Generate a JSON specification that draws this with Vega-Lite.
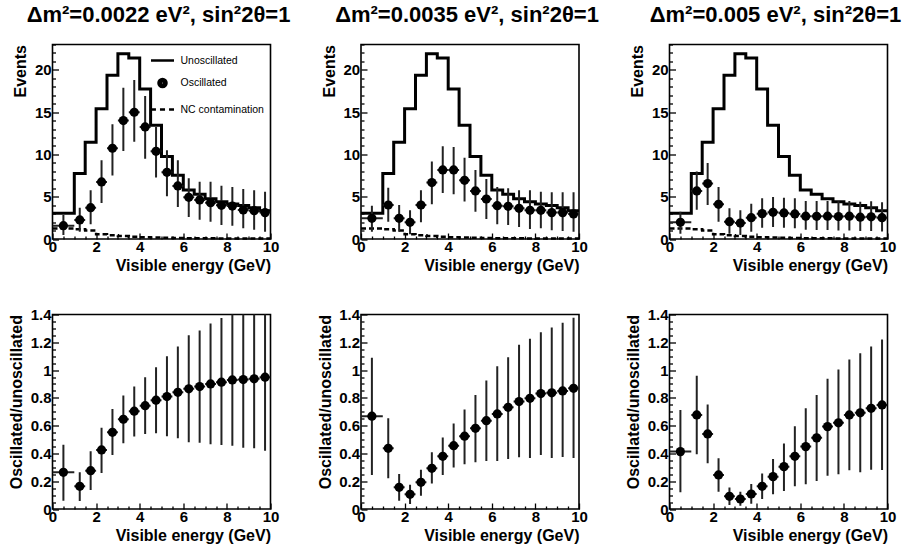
{
"$schema": "https://vega.github.io/schema/vega-lite/v6.json",
"autosize": {"type": "pad"},
"padding": {"left": 7.5, "top": 2.5, "right": 4, "bottom": 4},
"background": "white",
"bounds": "flush",
"columns": 3,
"spacing": {"row": 75, "column": 90.5},
"datasets": {
"hist": [
{"x":0,"v":3.05,"nc":1.25},{"x":1,"v":7.75,"nc":1.15},{"x":1.5,"v":11.45,"nc":1.0},{"x":2,"v":15.4,"nc":0.55},
{"x":2.5,"v":19.35,"nc":0.45},{"x":3,"v":21.9,"nc":0.35},{"x":3.5,"v":21.4,"nc":0.28},{"x":4,"v":17.75,"nc":0.22},
{"x":4.5,"v":13.45,"nc":0.18},{"x":5,"v":9.75,"nc":0.15},{"x":5.5,"v":7.55,"nc":0.12},{"x":6,"v":5.8,"nc":0.1},
{"x":6.5,"v":5.3,"nc":0.09},{"x":7,"v":4.75,"nc":0.08},{"x":7.5,"v":4.4,"nc":0.07},{"x":8,"v":4.15,"nc":0.06},
{"x":8.5,"v":3.95,"nc":0.06},{"x":9,"v":3.7,"nc":0.05},{"x":9.5,"v":3.35,"nc":0.05},{"x":10,"v":3.35,"nc":0.05}
],
"p1": [
{"x":0.5,"y":1.58,"lo":0.47,"hi":2.84,"xlo":0,"xhi":1},
{"x":1.25,"y":2.25,"lo":0.87,"hi":3.7,"xlo":1,"xhi":1.5},
{"x":1.75,"y":3.7,"lo":1.74,"hi":5.76,"xlo":1.5,"xhi":2},
{"x":2.25,"y":6.75,"lo":4.26,"hi":9.3,"xlo":2,"xhi":2.5},
{"x":2.75,"y":10.73,"lo":7.5,"hi":13.57,"xlo":2.5,"xhi":3},
{"x":3.25,"y":14.0,"lo":10.4,"hi":17.9,"xlo":3,"xhi":3.5},
{"x":3.75,"y":14.99,"lo":11.5,"hi":18.8,"xlo":3.5,"xhi":4},
{"x":4.25,"y":13.25,"lo":9.5,"hi":16.9,"xlo":4,"xhi":4.5},
{"x":4.75,"y":10.37,"lo":7.26,"hi":13.25,"xlo":4.5,"xhi":5},
{"x":5.25,"y":7.89,"lo":5.05,"hi":10.5,"xlo":5,"xhi":5.5},
{"x":5.75,"y":6.27,"lo":3.79,"hi":9.3,"xlo":5.5,"xhi":6},
{"x":6.25,"y":4.93,"lo":2.6,"hi":7.18,"xlo":6,"xhi":6.5},
{"x":6.75,"y":4.62,"lo":2.29,"hi":6.78,"xlo":6.5,"xhi":7},
{"x":7.25,"y":4.3,"lo":2.05,"hi":6.78,"xlo":7,"xhi":7.5},
{"x":7.75,"y":3.98,"lo":1.66,"hi":6.31,"xlo":7.5,"xhi":8},
{"x":8.25,"y":3.9,"lo":1.58,"hi":6.15,"xlo":8,"xhi":8.5},
{"x":8.75,"y":3.43,"lo":1.26,"hi":5.92,"xlo":8.5,"xhi":9},
{"x":9.25,"y":3.35,"lo":1.1,"hi":5.76,"xlo":9,"xhi":9.5},
{"x":9.75,"y":3.12,"lo":0.87,"hi":5.6,"xlo":9.5,"xhi":10}
],
"p2": [
{"x":0.5,"y":2.45,"lo":0.87,"hi":3.94,"xlo":0,"xhi":1},
{"x":1.25,"y":4.02,"lo":2.05,"hi":6.07,"xlo":1,"xhi":1.5},
{"x":1.75,"y":2.45,"lo":0.87,"hi":4.02,"xlo":1.5,"xhi":2},
{"x":2.25,"y":1.97,"lo":0.55,"hi":3.4,"xlo":2,"xhi":2.5},
{"x":2.75,"y":4.02,"lo":1.97,"hi":5.76,"xlo":2.5,"xhi":3},
{"x":3.25,"y":6.67,"lo":4.1,"hi":9.15,"xlo":3,"xhi":3.5},
{"x":3.75,"y":8.17,"lo":5.44,"hi":10.97,"xlo":3.5,"xhi":4},
{"x":4.25,"y":8.17,"lo":5.28,"hi":10.89,"xlo":4,"xhi":4.5},
{"x":4.75,"y":6.94,"lo":4.42,"hi":9.6,"xlo":4.5,"xhi":5},
{"x":5.25,"y":5.68,"lo":3.23,"hi":8.17,"xlo":5,"xhi":5.5},
{"x":5.75,"y":4.73,"lo":2.37,"hi":7.1,"xlo":5.5,"xhi":6},
{"x":6.25,"y":3.94,"lo":1.74,"hi":6.15,"xlo":6,"xhi":6.5},
{"x":6.75,"y":3.87,"lo":1.66,"hi":5.99,"xlo":6.5,"xhi":7},
{"x":7.25,"y":3.63,"lo":1.42,"hi":5.76,"xlo":7,"xhi":7.5},
{"x":7.75,"y":3.39,"lo":1.18,"hi":5.76,"xlo":7.5,"xhi":8},
{"x":8.25,"y":3.39,"lo":1.26,"hi":5.6,"xlo":8,"xhi":8.5},
{"x":8.75,"y":3.12,"lo":1.03,"hi":5.52,"xlo":8.5,"xhi":9},
{"x":9.25,"y":3.12,"lo":0.95,"hi":5.52,"xlo":9,"xhi":9.5},
{"x":9.75,"y":2.96,"lo":0.87,"hi":5.52,"xlo":9.5,"xhi":10}
],
"p3": [
{"x":0.5,"y":1.97,"lo":0.63,"hi":3.23,"xlo":0,"xhi":1},
{"x":1.25,"y":5.68,"lo":3.47,"hi":7.97,"xlo":1,"xhi":1.5},
{"x":1.75,"y":6.55,"lo":4.02,"hi":9.0,"xlo":1.5,"xhi":2},
{"x":2.25,"y":4.1,"lo":2.05,"hi":6.15,"xlo":2,"xhi":2.5},
{"x":2.75,"y":2.05,"lo":0.63,"hi":3.63,"xlo":2.5,"xhi":3},
{"x":3.25,"y":1.89,"lo":0.47,"hi":3.39,"xlo":3,"xhi":3.5},
{"x":3.75,"y":2.52,"lo":0.87,"hi":4.18,"xlo":3.5,"xhi":4},
{"x":4.25,"y":3.0,"lo":1.34,"hi":4.81,"xlo":4,"xhi":4.5},
{"x":4.75,"y":3.16,"lo":1.42,"hi":4.97,"xlo":4.5,"xhi":5},
{"x":5.25,"y":3.08,"lo":1.34,"hi":4.89,"xlo":5,"xhi":5.5},
{"x":5.75,"y":2.96,"lo":1.26,"hi":4.81,"xlo":5.5,"xhi":6},
{"x":6.25,"y":2.7,"lo":1.1,"hi":4.5,"xlo":6,"xhi":6.5},
{"x":6.75,"y":2.68,"lo":1.05,"hi":4.5,"xlo":6.5,"xhi":7},
{"x":7.25,"y":2.7,"lo":1.05,"hi":4.5,"xlo":7,"xhi":7.5},
{"x":7.75,"y":2.65,"lo":1.0,"hi":4.45,"xlo":7.5,"xhi":8},
{"x":8.25,"y":2.7,"lo":1.0,"hi":4.5,"xlo":8,"xhi":8.5},
{"x":8.75,"y":2.58,"lo":0.95,"hi":4.4,"xlo":8.5,"xhi":9},
{"x":9.25,"y":2.62,"lo":0.95,"hi":4.45,"xlo":9,"xhi":9.5},
{"x":9.75,"y":2.52,"lo":0.9,"hi":4.35,"xlo":9.5,"xhi":10}
],
"r1": [
{"x":0.5,"y":0.264,"lo":0.06,"hi":0.463,"xlo":0,"xhi":1},
{"x":1.25,"y":0.163,"lo":0.058,"hi":0.264,"xlo":1,"xhi":1.5},
{"x":1.75,"y":0.276,"lo":0.137,"hi":0.415,"xlo":1.5,"xhi":2},
{"x":2.25,"y":0.425,"lo":0.259,"hi":0.584,"xlo":2,"xhi":2.5},
{"x":2.75,"y":0.552,"lo":0.389,"hi":0.72,"xlo":2.5,"xhi":3},
{"x":3.25,"y":0.646,"lo":0.473,"hi":0.817,"xlo":3,"xhi":3.5},
{"x":3.75,"y":0.704,"lo":0.521,"hi":0.881,"xlo":3.5,"xhi":4},
{"x":4.25,"y":0.744,"lo":0.54,"hi":0.949,"xlo":4,"xhi":4.5},
{"x":4.75,"y":0.783,"lo":0.545,"hi":1.02,"xlo":4.5,"xhi":5},
{"x":5.25,"y":0.809,"lo":0.524,"hi":1.1,"xlo":5,"xhi":5.5},
{"x":5.75,"y":0.84,"lo":0.509,"hi":1.17,"xlo":5.5,"xhi":6},
{"x":6.25,"y":0.865,"lo":0.48,"hi":1.25,"xlo":6,"xhi":6.5},
{"x":6.75,"y":0.881,"lo":0.476,"hi":1.285,"xlo":6.5,"xhi":7},
{"x":7.25,"y":0.9,"lo":0.466,"hi":1.335,"xlo":7,"xhi":7.5},
{"x":7.75,"y":0.913,"lo":0.461,"hi":1.374,"xlo":7.5,"xhi":8},
{"x":8.25,"y":0.929,"lo":0.456,"hi":1.43,"xlo":8,"xhi":8.5},
{"x":8.75,"y":0.932,"lo":0.44,"hi":1.47,"xlo":8.5,"xhi":9},
{"x":9.25,"y":0.937,"lo":0.437,"hi":1.5,"xlo":9,"xhi":9.5},
{"x":9.75,"y":0.949,"lo":0.42,"hi":1.53,"xlo":9.5,"xhi":10}
],
"r2": [
{"x":0.5,"y":0.668,"lo":0.245,"hi":1.088,"xlo":0,"xhi":1},
{"x":1.25,"y":0.437,"lo":0.221,"hi":0.653,"xlo":1,"xhi":1.5},
{"x":1.75,"y":0.156,"lo":0.06,"hi":0.252,"xlo":1.5,"xhi":2},
{"x":2.25,"y":0.106,"lo":0.036,"hi":0.175,"xlo":2,"xhi":2.5},
{"x":2.75,"y":0.192,"lo":0.096,"hi":0.283,"xlo":2.5,"xhi":3},
{"x":3.25,"y":0.293,"lo":0.183,"hi":0.408,"xlo":3,"xhi":3.5},
{"x":3.75,"y":0.379,"lo":0.245,"hi":0.514,"xlo":3.5,"xhi":4},
{"x":4.25,"y":0.456,"lo":0.298,"hi":0.615,"xlo":4,"xhi":4.5},
{"x":4.75,"y":0.524,"lo":0.322,"hi":0.716,"xlo":4.5,"xhi":5},
{"x":5.25,"y":0.581,"lo":0.336,"hi":0.821,"xlo":5,"xhi":5.5},
{"x":5.75,"y":0.636,"lo":0.346,"hi":0.925,"xlo":5.5,"xhi":6},
{"x":6.25,"y":0.684,"lo":0.346,"hi":1.028,"xlo":6,"xhi":6.5},
{"x":6.75,"y":0.732,"lo":0.36,"hi":1.093,"xlo":6.5,"xhi":7},
{"x":7.25,"y":0.773,"lo":0.372,"hi":1.182,"xlo":7,"xhi":7.5},
{"x":7.75,"y":0.797,"lo":0.367,"hi":1.225,"xlo":7.5,"xhi":8},
{"x":8.25,"y":0.831,"lo":0.389,"hi":1.273,"xlo":8,"xhi":8.5},
{"x":8.75,"y":0.836,"lo":0.367,"hi":1.306,"xlo":8.5,"xhi":9},
{"x":9.25,"y":0.85,"lo":0.375,"hi":1.34,"xlo":9,"xhi":9.5},
{"x":9.75,"y":0.869,"lo":0.367,"hi":1.376,"xlo":9.5,"xhi":10}
],
"r3": [
{"x":0.5,"y":0.413,"lo":0.12,"hi":0.713,"xlo":0,"xhi":1},
{"x":1.25,"y":0.677,"lo":0.394,"hi":0.96,"xlo":1,"xhi":1.5},
{"x":1.75,"y":0.54,"lo":0.329,"hi":0.752,"xlo":1.5,"xhi":2},
{"x":2.25,"y":0.245,"lo":0.125,"hi":0.365,"xlo":2,"xhi":2.5},
{"x":2.75,"y":0.091,"lo":0.029,"hi":0.154,"xlo":2.5,"xhi":3},
{"x":3.25,"y":0.072,"lo":0.024,"hi":0.125,"xlo":3,"xhi":3.5},
{"x":3.75,"y":0.108,"lo":0.038,"hi":0.18,"xlo":3.5,"xhi":4},
{"x":4.25,"y":0.163,"lo":0.072,"hi":0.255,"xlo":4,"xhi":4.5},
{"x":4.75,"y":0.233,"lo":0.106,"hi":0.36,"xlo":4.5,"xhi":5},
{"x":5.25,"y":0.305,"lo":0.13,"hi":0.471,"xlo":5,"xhi":5.5},
{"x":5.75,"y":0.379,"lo":0.163,"hi":0.596,"xlo":5.5,"xhi":6},
{"x":6.25,"y":0.449,"lo":0.178,"hi":0.725,"xlo":6,"xhi":6.5},
{"x":6.75,"y":0.512,"lo":0.202,"hi":0.821,"xlo":6.5,"xhi":7},
{"x":7.25,"y":0.593,"lo":0.24,"hi":0.937,"xlo":7,"xhi":7.5},
{"x":7.75,"y":0.62,"lo":0.25,"hi":1.004,"xlo":7.5,"xhi":8},
{"x":8.25,"y":0.677,"lo":0.279,"hi":1.076,"xlo":8,"xhi":8.5},
{"x":8.75,"y":0.692,"lo":0.264,"hi":1.121,"xlo":8.5,"xhi":9},
{"x":9.25,"y":0.725,"lo":0.283,"hi":1.17,"xlo":9,"xhi":9.5},
{"x":9.75,"y":0.749,"lo":0.281,"hi":1.22,"xlo":9.5,"xhi":10}
],
"leg": [{"s":"Unoscillated"},{"s":"Oscillated"},{"s":"NC contamination"}]
},
"config": {
"view": {"stroke": "black", "strokeWidth": 1.6},
"axis": {"domain": false, "grid": false, "tickColor": "black", "tickWidth": 1.3, "labelFont": "Liberation Sans", "labelFontWeight": "bold", "labelFontSize": 15, "labelColor": "black", "titleFont": "Liberation Sans", "titleFontWeight": "bold", "titleFontSize": 16, "titleColor": "black", "labelOverlap": false, "labelFlush": false, "labelBound": false},
"axisY": {"titleAnchor": "end", "titlePadding": 5.5},
"title": {"font": "Liberation Sans", "fontSize": 22, "fontWeight": "bold", "color": "black", "anchor": "middle", "frame": "group", "offset": 16.7, "baseline": "alphabetic", "dx": -3}
},
"concat": [
{"width": 218, "height": 194.5, "title": "Δm²=0.0022 eV², sin²2θ=1",
 "resolve": {"axis": {"x": "independent", "y": "independent"}},
 "layer": [
  {"data": {"name": "hist"}, "mark": {"type": "line", "interpolate": "step-after", "color": "black", "strokeWidth": 3},
   "encoding": {
    "x": {"field": "x", "type": "quantitative", "scale": {"domain": [0, 10], "nice": false},
     "axis": {"orient": "bottom", "values": [0,2,4,6,8,10], "labelExpr": "format(datum.value, '~g')", "labelOverlap": false, "tickSize": -6, "labelPadding": 6.5, "title": "Visible energy (GeV)", "titleX": 218, "titleY": 31.4, "titleAlign": "right", "titleBaseline": "alphabetic"}},
    "y": {"field": "v", "type": "quantitative", "scale": {"domain": [0, 23], "nice": false},
     "axis": {"orient": "left", "values": [0,5,10,15,20], "labelExpr": "format(datum.value, '~g')", "labelOverlap": false, "tickSize": -6, "labelPadding": 7.4, "title": "Events"}}}},
  {"data": {"name": "hist"}, "mark": {"type": "line", "interpolate": "step-after", "color": "black", "strokeWidth": 2.5, "strokeDash": [5, 3]},
   "encoding": {
    "x": {"field": "x", "type": "quantitative", "scale": {"domain": [0, 10], "nice": false}, "axis": {"orient": "bottom", "values": [0.5,1,1.5,2.5,3,3.5,4.5,5,5.5,6.5,7,7.5,8.5,9,9.5], "labels": false, "title": null, "tickSize": -3}},
    "y": {"field": "nc", "type": "quantitative", "scale": {"domain": [0, 23], "nice": false}, "axis": {"orient": "left", "values": [1,2,3,4,6,7,8,9,11,12,13,14,16,17,18,19,21,22,23], "labels": false, "title": null, "tickSize": -3}}}},
  {"data": {"name": "p1"}, "mark": {"type": "rule", "color": "#222", "strokeWidth": 2, "clip": true},
   "encoding": {"x": {"field": "x", "type": "quantitative", "scale": {"domain": [0, 10], "nice": false}, "axis": null}, "y": {"field": "lo", "type": "quantitative", "scale": {"domain": [0, 23], "nice": false}, "axis": null}, "y2": {"field": "hi"}}},
  {"data": {"name": "p1"}, "mark": {"type": "rule", "color": "#222", "strokeWidth": 2, "clip": true},
   "encoding": {"x": {"field": "xlo", "type": "quantitative", "scale": {"domain": [0, 10], "nice": false}, "axis": null}, "x2": {"field": "xhi"}, "y": {"field": "y", "type": "quantitative", "scale": {"domain": [0, 23], "nice": false}, "axis": null}}},
  {"data": {"name": "p1"}, "mark": {"type": "point", "filled": true, "color": "black", "size": 85, "opacity": 1},
   "encoding": {"x": {"field": "x", "type": "quantitative", "scale": {"domain": [0, 10], "nice": false}, "axis": null}, "y": {"field": "y", "type": "quantitative", "scale": {"domain": [0, 23], "nice": false}, "axis": null}}},
  {"data": {"name": "leg"}, "mark": {"type": "point", "filled": false, "color": "black", "strokeWidth": 2.5, "opacity": 0},
   "encoding": {"shape": {"field": "s", "type": "nominal",
     "scale": {"domain": ["Unoscillated", "Oscillated", "NC contamination"], "range": ["M-1,0H1", "M-0.35,0A0.35,0.35,0,1,1,0.35,0A0.35,0.35,0,1,1,-0.35,0M-0.25,0A0.25,0.25,0,1,1,0.25,0A0.25,0.25,0,1,1,-0.25,0M-0.15,0A0.15,0.15,0,1,1,0.15,0A0.15,0.15,0,1,1,-0.15,0M-0.05,0A0.05,0.05,0,1,1,0.05,0A0.05,0.05,0,1,1,-0.05,0", "M-1,0H-0.57M-0.22,0H0.22M0.57,0H1"]},
     "legend": {"title": null, "orient": "none", "legendX": 97, "legendY": 3, "symbolSize": 529, "symbolStrokeWidth": 2.5, "symbolStrokeColor": "black", "symbolFillColor": "transparent", "symbolOpacity": 1, "labelFont": "Liberation Sans", "labelFontSize": 10.5, "labelColor": "black", "labelOffset": 5, "rowPadding": 3.5, "padding": 0,
       "encode": {"symbols": {"update": {"opacity": {"value": 1}, "stroke": {"value": "black"}, "strokeWidth": {"value": 2.5}}}}}}}}
 ]},
{"width": 218, "height": 194.5, "title": "Δm²=0.0035 eV², sin²2θ=1",
 "resolve": {"axis": {"x": "independent", "y": "independent"}},
 "layer": [
  {"data": {"name": "hist"}, "mark": {"type": "line", "interpolate": "step-after", "color": "black", "strokeWidth": 3},
   "encoding": {
    "x": {"field": "x", "type": "quantitative", "scale": {"domain": [0, 10], "nice": false},
     "axis": {"orient": "bottom", "values": [0,2,4,6,8,10], "labelExpr": "format(datum.value, '~g')", "labelOverlap": false, "tickSize": -6, "labelPadding": 6.5, "title": "Visible energy (GeV)", "titleX": 218, "titleY": 31.4, "titleAlign": "right", "titleBaseline": "alphabetic"}},
    "y": {"field": "v", "type": "quantitative", "scale": {"domain": [0, 23], "nice": false},
     "axis": {"orient": "left", "values": [0,5,10,15,20], "labelExpr": "format(datum.value, '~g')", "labelOverlap": false, "tickSize": -6, "labelPadding": 7.4, "title": "Events"}}}},
  {"data": {"name": "hist"}, "mark": {"type": "line", "interpolate": "step-after", "color": "black", "strokeWidth": 2.5, "strokeDash": [5, 3]},
   "encoding": {
    "x": {"field": "x", "type": "quantitative", "scale": {"domain": [0, 10], "nice": false}, "axis": {"orient": "bottom", "values": [0.5,1,1.5,2.5,3,3.5,4.5,5,5.5,6.5,7,7.5,8.5,9,9.5], "labels": false, "title": null, "tickSize": -3}},
    "y": {"field": "nc", "type": "quantitative", "scale": {"domain": [0, 23], "nice": false}, "axis": {"orient": "left", "values": [1,2,3,4,6,7,8,9,11,12,13,14,16,17,18,19,21,22,23], "labels": false, "title": null, "tickSize": -3}}}},
  {"data": {"name": "p2"}, "mark": {"type": "rule", "color": "#222", "strokeWidth": 2, "clip": true},
   "encoding": {"x": {"field": "x", "type": "quantitative", "scale": {"domain": [0, 10], "nice": false}, "axis": null}, "y": {"field": "lo", "type": "quantitative", "scale": {"domain": [0, 23], "nice": false}, "axis": null}, "y2": {"field": "hi"}}},
  {"data": {"name": "p2"}, "mark": {"type": "rule", "color": "#222", "strokeWidth": 2, "clip": true},
   "encoding": {"x": {"field": "xlo", "type": "quantitative", "scale": {"domain": [0, 10], "nice": false}, "axis": null}, "x2": {"field": "xhi"}, "y": {"field": "y", "type": "quantitative", "scale": {"domain": [0, 23], "nice": false}, "axis": null}}},
  {"data": {"name": "p2"}, "mark": {"type": "point", "filled": true, "color": "black", "size": 85, "opacity": 1},
   "encoding": {"x": {"field": "x", "type": "quantitative", "scale": {"domain": [0, 10], "nice": false}, "axis": null}, "y": {"field": "y", "type": "quantitative", "scale": {"domain": [0, 23], "nice": false}, "axis": null}}}
 ]},
{"width": 218, "height": 194.5, "title": "Δm²=0.005 eV², sin²2θ=1",
 "resolve": {"axis": {"x": "independent", "y": "independent"}},
 "layer": [
  {"data": {"name": "hist"}, "mark": {"type": "line", "interpolate": "step-after", "color": "black", "strokeWidth": 3},
   "encoding": {
    "x": {"field": "x", "type": "quantitative", "scale": {"domain": [0, 10], "nice": false},
     "axis": {"orient": "bottom", "values": [0,2,4,6,8,10], "labelExpr": "format(datum.value, '~g')", "labelOverlap": false, "tickSize": -6, "labelPadding": 6.5, "title": "Visible energy (GeV)", "titleX": 218, "titleY": 31.4, "titleAlign": "right", "titleBaseline": "alphabetic"}},
    "y": {"field": "v", "type": "quantitative", "scale": {"domain": [0, 23], "nice": false},
     "axis": {"orient": "left", "values": [0,5,10,15,20], "labelExpr": "format(datum.value, '~g')", "labelOverlap": false, "tickSize": -6, "labelPadding": 7.4, "title": "Events"}}}},
  {"data": {"name": "hist"}, "mark": {"type": "line", "interpolate": "step-after", "color": "black", "strokeWidth": 2.5, "strokeDash": [5, 3]},
   "encoding": {
    "x": {"field": "x", "type": "quantitative", "scale": {"domain": [0, 10], "nice": false}, "axis": {"orient": "bottom", "values": [0.5,1,1.5,2.5,3,3.5,4.5,5,5.5,6.5,7,7.5,8.5,9,9.5], "labels": false, "title": null, "tickSize": -3}},
    "y": {"field": "nc", "type": "quantitative", "scale": {"domain": [0, 23], "nice": false}, "axis": {"orient": "left", "values": [1,2,3,4,6,7,8,9,11,12,13,14,16,17,18,19,21,22,23], "labels": false, "title": null, "tickSize": -3}}}},
  {"data": {"name": "p3"}, "mark": {"type": "rule", "color": "#222", "strokeWidth": 2, "clip": true},
   "encoding": {"x": {"field": "x", "type": "quantitative", "scale": {"domain": [0, 10], "nice": false}, "axis": null}, "y": {"field": "lo", "type": "quantitative", "scale": {"domain": [0, 23], "nice": false}, "axis": null}, "y2": {"field": "hi"}}},
  {"data": {"name": "p3"}, "mark": {"type": "rule", "color": "#222", "strokeWidth": 2, "clip": true},
   "encoding": {"x": {"field": "xlo", "type": "quantitative", "scale": {"domain": [0, 10], "nice": false}, "axis": null}, "x2": {"field": "xhi"}, "y": {"field": "y", "type": "quantitative", "scale": {"domain": [0, 23], "nice": false}, "axis": null}}},
  {"data": {"name": "p3"}, "mark": {"type": "point", "filled": true, "color": "black", "size": 85, "opacity": 1},
   "encoding": {"x": {"field": "x", "type": "quantitative", "scale": {"domain": [0, 10], "nice": false}, "axis": null}, "y": {"field": "y", "type": "quantitative", "scale": {"domain": [0, 23], "nice": false}, "axis": null}}}
 ]},
{"width": 218, "height": 194.5,
 "resolve": {"axis": {"x": "independent", "y": "independent"}},
 "layer": [
  {"data": {"name": "r1"}, "mark": {"type": "rule", "color": "#222", "strokeWidth": 2, "clip": true},
   "encoding": {
    "x": {"field": "x", "type": "quantitative", "scale": {"domain": [0, 10], "nice": false},
     "axis": {"orient": "bottom", "values": [0,2,4,6,8,10], "labelExpr": "format(datum.value, '~g')", "labelOverlap": false, "tickSize": -6, "labelPadding": 6.5, "title": "Visible energy (GeV)", "titleX": 218, "titleY": 31.4, "titleAlign": "right", "titleBaseline": "alphabetic"}},
    "y": {"field": "lo", "type": "quantitative", "scale": {"domain": [0, 1.4], "nice": false},
     "axis": {"orient": "left", "values": [0,0.2,0.4,0.6,0.8,1,1.2,1.4], "labelExpr": "format(datum.value, '~g')", "labelOverlap": false, "tickSize": -6, "labelPadding": 7.4, "title": "Oscillated/unoscillated"}},
    "y2": {"field": "hi"}}},
  {"data": {"name": "r1"}, "mark": {"type": "rule", "color": "#222", "strokeWidth": 2, "clip": true},
   "encoding": {
    "x": {"field": "xlo", "type": "quantitative", "scale": {"domain": [0, 10], "nice": false}, "axis": {"orient": "bottom", "values": [0.5,1,1.5,2.5,3,3.5,4.5,5,5.5,6.5,7,7.5,8.5,9,9.5], "labels": false, "title": null, "tickSize": -3}},
    "x2": {"field": "xhi"},
    "y": {"field": "y", "type": "quantitative", "scale": {"domain": [0, 1.4], "nice": false}, "axis": {"orient": "left", "values": [0.05,0.1,0.15,0.25,0.3,0.35,0.45,0.5,0.55,0.65,0.7,0.75,0.85,0.9,0.95,1.05,1.1,1.15,1.25,1.3,1.35], "labels": false, "title": null, "tickSize": -3}}}},
  {"mark": {"type": "rule", "color": "black", "strokeWidth": 2.7, "strokeDash": [2, 2.3]},
   "encoding": {"y": {"datum": 1, "type": "quantitative", "scale": {"domain": [0, 1.4], "nice": false}, "axis": null}}},
  {"data": {"name": "r1"}, "mark": {"type": "point", "filled": true, "color": "black", "size": 85, "opacity": 1},
   "encoding": {"x": {"field": "x", "type": "quantitative", "scale": {"domain": [0, 10], "nice": false}, "axis": null}, "y": {"field": "y", "type": "quantitative", "scale": {"domain": [0, 1.4], "nice": false}, "axis": null}}}
 ]},
{"width": 218, "height": 194.5,
 "resolve": {"axis": {"x": "independent", "y": "independent"}},
 "layer": [
  {"data": {"name": "r2"}, "mark": {"type": "rule", "color": "#222", "strokeWidth": 2, "clip": true},
   "encoding": {
    "x": {"field": "x", "type": "quantitative", "scale": {"domain": [0, 10], "nice": false},
     "axis": {"orient": "bottom", "values": [0,2,4,6,8,10], "labelExpr": "format(datum.value, '~g')", "labelOverlap": false, "tickSize": -6, "labelPadding": 6.5, "title": "Visible energy (GeV)", "titleX": 218, "titleY": 31.4, "titleAlign": "right", "titleBaseline": "alphabetic"}},
    "y": {"field": "lo", "type": "quantitative", "scale": {"domain": [0, 1.4], "nice": false},
     "axis": {"orient": "left", "values": [0,0.2,0.4,0.6,0.8,1,1.2,1.4], "labelExpr": "format(datum.value, '~g')", "labelOverlap": false, "tickSize": -6, "labelPadding": 7.4, "title": "Oscillated/unoscillated"}},
    "y2": {"field": "hi"}}},
  {"data": {"name": "r2"}, "mark": {"type": "rule", "color": "#222", "strokeWidth": 2, "clip": true},
   "encoding": {
    "x": {"field": "xlo", "type": "quantitative", "scale": {"domain": [0, 10], "nice": false}, "axis": {"orient": "bottom", "values": [0.5,1,1.5,2.5,3,3.5,4.5,5,5.5,6.5,7,7.5,8.5,9,9.5], "labels": false, "title": null, "tickSize": -3}},
    "x2": {"field": "xhi"},
    "y": {"field": "y", "type": "quantitative", "scale": {"domain": [0, 1.4], "nice": false}, "axis": {"orient": "left", "values": [0.05,0.1,0.15,0.25,0.3,0.35,0.45,0.5,0.55,0.65,0.7,0.75,0.85,0.9,0.95,1.05,1.1,1.15,1.25,1.3,1.35], "labels": false, "title": null, "tickSize": -3}}}},
  {"mark": {"type": "rule", "color": "black", "strokeWidth": 2.7, "strokeDash": [2, 2.3]},
   "encoding": {"y": {"datum": 1, "type": "quantitative", "scale": {"domain": [0, 1.4], "nice": false}, "axis": null}}},
  {"data": {"name": "r2"}, "mark": {"type": "point", "filled": true, "color": "black", "size": 85, "opacity": 1},
   "encoding": {"x": {"field": "x", "type": "quantitative", "scale": {"domain": [0, 10], "nice": false}, "axis": null}, "y": {"field": "y", "type": "quantitative", "scale": {"domain": [0, 1.4], "nice": false}, "axis": null}}}
 ]},
{"width": 218, "height": 194.5,
 "resolve": {"axis": {"x": "independent", "y": "independent"}},
 "layer": [
  {"data": {"name": "r3"}, "mark": {"type": "rule", "color": "#222", "strokeWidth": 2, "clip": true},
   "encoding": {
    "x": {"field": "x", "type": "quantitative", "scale": {"domain": [0, 10], "nice": false},
     "axis": {"orient": "bottom", "values": [0,2,4,6,8,10], "labelExpr": "format(datum.value, '~g')", "labelOverlap": false, "tickSize": -6, "labelPadding": 6.5, "title": "Visible energy (GeV)", "titleX": 218, "titleY": 31.4, "titleAlign": "right", "titleBaseline": "alphabetic"}},
    "y": {"field": "lo", "type": "quantitative", "scale": {"domain": [0, 1.4], "nice": false},
     "axis": {"orient": "left", "values": [0,0.2,0.4,0.6,0.8,1,1.2,1.4], "labelExpr": "format(datum.value, '~g')", "labelOverlap": false, "tickSize": -6, "labelPadding": 7.4, "title": "Oscillated/unoscillated"}},
    "y2": {"field": "hi"}}},
  {"data": {"name": "r3"}, "mark": {"type": "rule", "color": "#222", "strokeWidth": 2, "clip": true},
   "encoding": {
    "x": {"field": "xlo", "type": "quantitative", "scale": {"domain": [0, 10], "nice": false}, "axis": {"orient": "bottom", "values": [0.5,1,1.5,2.5,3,3.5,4.5,5,5.5,6.5,7,7.5,8.5,9,9.5], "labels": false, "title": null, "tickSize": -3}},
    "x2": {"field": "xhi"},
    "y": {"field": "y", "type": "quantitative", "scale": {"domain": [0, 1.4], "nice": false}, "axis": {"orient": "left", "values": [0.05,0.1,0.15,0.25,0.3,0.35,0.45,0.5,0.55,0.65,0.7,0.75,0.85,0.9,0.95,1.05,1.1,1.15,1.25,1.3,1.35], "labels": false, "title": null, "tickSize": -3}}}},
  {"mark": {"type": "rule", "color": "black", "strokeWidth": 2.7, "strokeDash": [2, 2.3]},
   "encoding": {"y": {"datum": 1, "type": "quantitative", "scale": {"domain": [0, 1.4], "nice": false}, "axis": null}}},
  {"data": {"name": "r3"}, "mark": {"type": "point", "filled": true, "color": "black", "size": 85, "opacity": 1},
   "encoding": {"x": {"field": "x", "type": "quantitative", "scale": {"domain": [0, 10], "nice": false}, "axis": null}, "y": {"field": "y", "type": "quantitative", "scale": {"domain": [0, 1.4], "nice": false}, "axis": null}}}
 ]}
]
}
